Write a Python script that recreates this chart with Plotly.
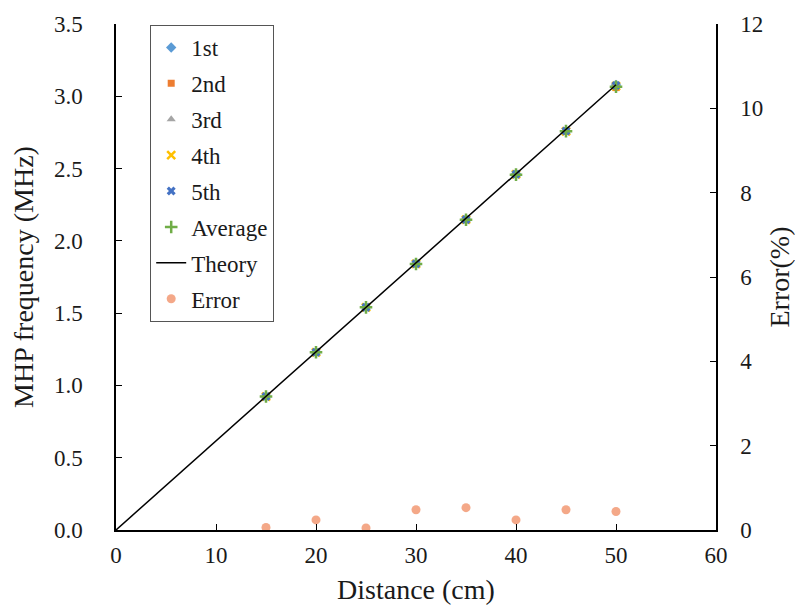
import plotly.graph_objects as go

distance = [15, 20, 25, 30, 35, 40, 45, 50]
first = [0.924, 1.230, 1.541, 1.843, 2.150, 2.462, 2.760, 3.078]
second = [0.923, 1.229, 1.539, 1.842, 2.146, 2.460, 2.758, 3.060]
third = [0.924, 1.229, 1.540, 1.840, 2.148, 2.459, 2.759, 3.072]
fourth = [0.923, 1.228, 1.540, 1.841, 2.147, 2.460, 2.758, 3.070]
fifth = [0.924, 1.230, 1.540, 1.842, 2.147, 2.461, 2.760, 3.074]
average = [0.923, 1.229, 1.540, 1.840, 2.146, 2.458, 2.759, 3.066]
theory_x = [0, 50]
theory_y = [0, 3.08]
error = [0.06, 0.24, 0.05, 0.48, 0.53, 0.24, 0.48, 0.44]

FONT = "Liberation Serif, DejaVu Serif"
fig = go.Figure()

series = [
    ("1st", first, dict(symbol="diamond", color="#5B9BD5", size=8)),
    ("2nd", second, dict(symbol="square", color="#ED7D31", size=7)),
    ("3rd", third, dict(symbol="triangle-up", color="#A5A5A5", size=8)),
    ("4th", fourth, dict(symbol="x-thin", color="#FFC000", size=8, line=dict(width=2.5, color="#FFC000"))),
    ("5th", fifth, dict(symbol="x", color="#4472C4", size=8)),
]
for name, vals, mk in series:
    fig.add_trace(go.Scatter(x=distance, y=vals, mode="markers", name=name, marker=mk, legendgroup=name))

fig.add_trace(go.Scatter(x=distance, y=average, mode="markers", name="Average", legendgroup="avg",
                         marker=dict(symbol="cross-thin", size=9, color="#70AD47",
                                     line=dict(width=2.5, color="#70AD47"))))
fig.add_trace(go.Scatter(x=theory_x, y=theory_y, mode="lines", name="Theory", legendgroup="th",
                         line=dict(color="black", width=1.5)))
fig.add_trace(go.Scatter(x=distance, y=error, mode="markers", name="Error", yaxis="y2", legendgroup="err",
                         marker=dict(symbol="circle", size=9, color="#F4A888")))

axis_common = dict(showline=True, linecolor="black", linewidth=1.5, automargin=False,
                   ticks="inside", ticklen=6, tickcolor="black", showgrid=False, zeroline=False)

fig.update_layout(
    width=795, height=608,
    margin=dict(l=116, r=79, t=24, b=78),
    paper_bgcolor="white", plot_bgcolor="white",
    font=dict(family=FONT, size=23, color="#1a1a1a"),
    showlegend=True,
    legend=dict(x=0.057, y=0.998, xanchor="left", yanchor="top",
                bordercolor="#555", borderwidth=1, bgcolor="white",
                font=dict(family=FONT, size=23), itemwidth=30, tracegroupgap=3),
    xaxis=dict(range=[0, 60], tickvals=[0, 10, 20, 30, 40, 50, 60],
               ticklabelstandoff=4,
               title=dict(text="Distance (cm)", standoff=12), **axis_common),
    yaxis=dict(range=[0, 3.5], tickvals=[0, 0.5, 1, 1.5, 2, 2.5, 3, 3.5], tickformat=".1f",
               ticklabelstandoff=27,
               title=dict(text="MHP frequency (MHz)", standoff=12), **axis_common),
    yaxis2=dict(range=[0, 12], tickvals=[0, 2, 4, 6, 8, 10, 12], overlaying="y", side="right",
                ticklabelstandoff=18,
                title=dict(text="Error(%)", standoff=10), **axis_common),
)

fig.write_html("out.html")
